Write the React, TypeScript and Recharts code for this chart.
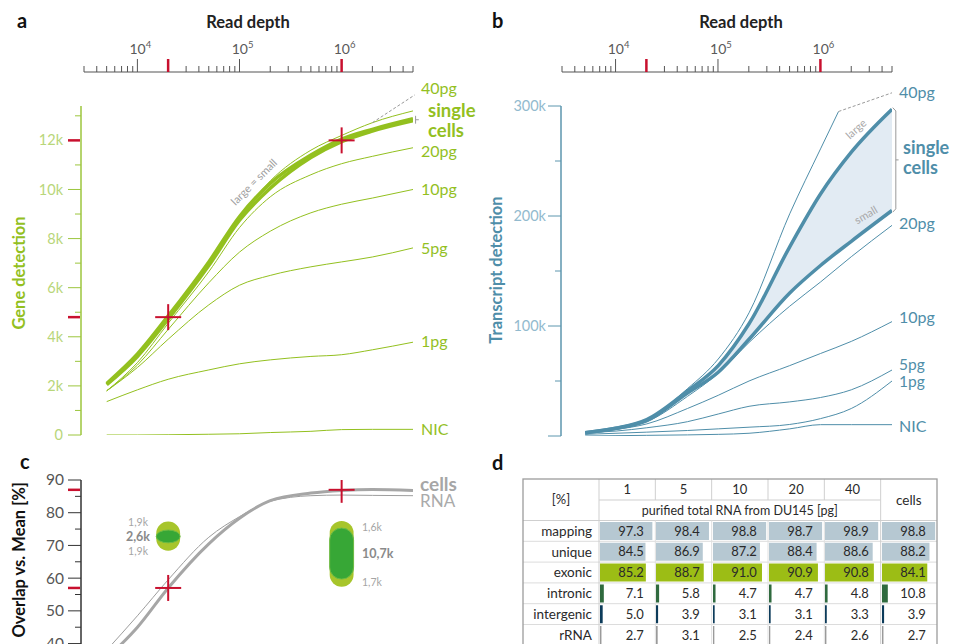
import React from 'react';
import {
  ComposedChart, Line, Area, XAxis, YAxis, Scatter, ReferenceLine, ReferenceArea,
  BarChart, Bar, Cell, LabelList,
} from 'recharts';

const FONT = 'Lato, "Open Sans", "DejaVu Sans", sans-serif';
const W = 955;
const H = 644;
const RED = '#c8102e';
const AXIS_DARK = '#555555';
const GREEN = '#93c01f';
const GREEN_AXIS = '#9cc63d';
const GREEN_LIGHT = '#b8d67a';
const BLUE = '#4f8ea9';
const BLUE_AXIS = '#5d96ae';
const BLUE_LIGHT = '#92bace';
const BAND = '#e2ebf3';
const GRAY_LINE = '#a6a6a6';

// ---------------- shared read-depth axis ----------------
const depths = [5000, 10000, 20000, 50000, 100000, 200000, 500000, 1000000, 2000000, 5000000];
const depthTicks = [
  3000, 4000, 5000, 6000, 7000, 8000, 9000, 10000,
  20000, 30000, 40000, 50000, 60000, 70000, 80000, 90000, 100000,
  200000, 300000, 400000, 500000, 600000, 700000, 800000, 900000, 1000000,
  2000000, 3000000, 4000000, 5000000,
];
const markedDepths = [20000, 1000000];

// ---------------- panel a: gene detection ----------------
const geneCellsLarge = [2100, 3300, 4850, 7050, 8900, 10250, 11400, 12050, 12450, 12880];
const geneCellsSmall = [2050, 3200, 4720, 6900, 8750, 10050, 11300, 11950, 12380, 12800];
const gene40pg = [2080, 3250, 4800, 7000, 8850, 10350, 11600, 12200, 12720, 13200];
const gene20pg = [1800, 2950, 4550, 6650, 8450, 9700, 10600, 11050, 11350, 11700];
const gene10pg = [1800, 2850, 4300, 6200, 7450, 8300, 9050, 9400, 9650, 10000];
const gene5pg = [1800, 2750, 3900, 5300, 6100, 6500, 6850, 7050, 7250, 7620];
const gene1pg = [1360, 1840, 2270, 2650, 2900, 3060, 3200, 3270, 3470, 3780];
const geneNIC = [0, 0, 10, 30, 50, 100, 150, 220, 230, 230];
const geneMarks = [4800, 12000];
const geneMajorTicks = [0, 2000, 4000, 6000, 8000, 10000, 12000];
const geneMinorTicks = [1000, 3000, 5000, 7000, 9000, 11000, 13000];

// ---------------- panel b: transcript detection ----------------
const txLarge = [3000, 7000, 15000, 41000, 64000, 102000, 172000, 220000, 258000, 297000];
const txSmall = [3000, 7000, 14000, 39000, 58000, 88000, 130000, 155000, 177000, 205000];
const tx40Depths = [5000, 10000, 20000, 50000, 100000, 200000, 500000, 1000000, 1500000];
const tx40pg = [3000, 7000, 15000, 43000, 70000, 112000, 202000, 261000, 295000];
const tx20pg = [3000, 6500, 13000, 36000, 57000, 85000, 118000, 140000, 163000, 191500];
const tx10pg = [3000, 6000, 11000, 25000, 37000, 50000, 64000, 75000, 86000, 104000];
const tx5pg = [3000, 4500, 7500, 13000, 20000, 27000, 31000, 35000, 42000, 60000];
const tx1pg = [1500, 2500, 3500, 5000, 6500, 8000, 10500, 15800, 25000, 50000];
const txNIC = [0, 300, 600, 1000, 1500, 2500, 6500, 10300, 10300, 10300];
const txMajorTicks = [0, 100000, 200000, 300000];
const txMinorTicks = [50000, 150000, 250000];

// ---------------- panel c: overlap vs mean ----------------
const overlapCells = [35.5, 45, 57, 70.5, 78.3, 83.7, 86.0, 86.8, 87.1, 86.8];
const overlapRNA = [38, 48.5, 59.5, 72.5, 78.8, 83.5, 85.2, 85.4, 85.3, 85.2];
const overlapMarks = [57, 87];
const overlapMajorTicks = [30, 40, 50, 60, 70, 80, 90];
const overlapMinorTicks = [35, 45, 55, 65, 75, 85];
const capsuleDepths = [20000, 1000000];
const capsuleOuterLow = [68.4, 57.4];
const capsuleOuterHigh = [77.3, 77.5];
const capsuleInnerLow = [70.8, 59.7];
const capsuleInnerHigh = [74.7, 75.3];
const capsuleTopLabels = ['1,9k', '1,6k'];
const capsuleMidLabels = ['2,6k', '10,7k'];
const capsuleBottomLabels = ['1,9k', '1,7k'];

// ---------------- panel d: table ----------------
const tableRows = ['mapping', 'unique', 'exonic', 'intronic', 'intergenic', 'rRNA'];
const tableCols = ['1', '5', '10', '20', '40', 'cells'];
const mappingVals = [97.3, 98.4, 98.8, 98.7, 98.9, 98.8];
const uniqueVals = [84.5, 86.9, 87.2, 88.4, 88.6, 88.2];
const exonicVals = [85.2, 88.7, 91.0, 90.9, 90.8, 84.1];
const intronicVals = [7.1, 5.8, 4.7, 4.7, 4.8, 10.8];
const intergenicVals = [5.0, 3.9, 3.1, 3.1, 3.3, 3.9];
const rRNAVals = [2.7, 3.1, 2.5, 2.4, 2.6, 2.7];
const tableVals = [mappingVals, uniqueVals, exonicVals, intronicVals, intergenicVals, rRNAVals];
const rowColors = ['#b6c8d2', '#b6c8d2', '#9cbd15', '#2f6a3e', '#0c3b5a', '#9a9a9a'];

// ---------------- helpers ----------------
const series = (xs: number[], ys: number[]) => xs.map((d, i) => ({ depth: d, v: ys[i] }));
const uniqSorted = (a: number[]) => Array.from(new Set(a)).sort((p, q) => p - q);
const last = (a: number[]) => a[a.length - 1];

function DepthTick(props: any) {
  const { x, y, payload } = props;
  const v: number = payload.value;
  const e = Math.log10(v);
  const decade = Math.abs(e - Math.round(e)) < 1e-9;
  const red = markedDepths.includes(v);
  const len = decade || red ? 13 : 6;
  return (
    <g>
      <line x1={x} x2={x} y1={y} y2={y - len} stroke={red ? RED : AXIS_DARK} strokeWidth={red ? 2.5 : 1} />
      {decade && (
        <text x={x + 3} y={y - 18} textAnchor="middle" fontFamily={FONT} fontSize={14} fill="#5a5a5a">
          10<tspan dy={-6} fontSize={9.5}>{Math.round(e)}</tspan>
        </text>
      )}
    </g>
  );
}

type TickCfg = {
  major: number[];
  labelled: (v: number) => string | null;
  color: string;
  labelColor: string;
  red: number[];
  fontSize: number;
  gap: number;
};

function makeYTick(cfg: TickCfg) {
  return (props: any) => {
    const { x, y, payload } = props;
    const v: number = payload.value;
    const isRed = cfg.red.includes(v);
    const isMajor = cfg.major.includes(v);
    const lbl = isMajor ? cfg.labelled(v) : null;
    return (
      <g>
        {isRed ? (
          <line x1={x - 13} x2={x - 1} y1={y} y2={y} stroke={RED} strokeWidth={2.5} />
        ) : (
          <line x1={x - (isMajor ? 13 : 6)} x2={x} y1={y} y2={y} stroke={cfg.color} strokeWidth={1} />
        )}
        {lbl && (
          <text x={x - cfg.gap} y={y} dy="0.35em" textAnchor="end" fontFamily={FONT} fontSize={cfg.fontSize} fill={cfg.labelColor}>
            {lbl}
          </text>
        )}
      </g>
    );
  };
}

const CrossShape = (props: any) => {
  const { cx, cy } = props;
  return (
    <g>
      <line x1={cx - 13} x2={cx + 13} y1={cy} y2={cy} stroke={RED} strokeWidth={2} />
      <line x1={cx} x2={cx} y1={cy - 13} y2={cy + 13} stroke={RED} strokeWidth={2} />
    </g>
  );
};

function Abs({ children }: { children: React.ReactNode }) {
  return <div style={{ position: 'absolute', left: 0, top: 0 }}>{children}</div>;
}

function DepthAxis({ left, right }: { left: number; right: number }) {
  return (
    <ComposedChart width={W} height={H} margin={{ top: 0, left, right: W - right, bottom: H - 80 }}
      data={depthTicks.map((d) => ({ depth: d, v: 0.5 }))}>
      <XAxis dataKey="depth" type="number" scale="log" domain={[3000, 5000000]} allowDataOverflow
        orientation="top" height={72} ticks={depthTicks} interval={0} tickSize={0} tickMargin={0}
        tickLine={false} axisLine={{ stroke: AXIS_DARK, strokeWidth: 1.2 }} tick={DepthTick} />
      <YAxis hide domain={[0, 1]} />
      <Line dataKey="v" stroke="none" dot={false} isAnimationActive={false} />
    </ComposedChart>
  );
}

const geneTick = makeYTick({
  major: geneMajorTicks,
  labelled: (v) => (v === 0 ? '0' : `${v / 1000}k`),
  color: GREEN_AXIS, labelColor: GREEN_LIGHT, red: geneMarks, fontSize: 14.5, gap: 18,
});
const txTick = makeYTick({
  major: txMajorTicks,
  labelled: (v) => (v === 0 ? null : `${v / 1000}k`),
  color: BLUE_AXIS, labelColor: BLUE_LIGHT, red: [], fontSize: 14.5, gap: 15,
});
const overlapTick = makeYTick({
  major: overlapMajorTicks,
  labelled: (v) => `${v}`,
  color: '#333', labelColor: '#555', red: overlapMarks, fontSize: 15.5, gap: 17,
});

function PanelA() {
  const ticks = uniqSorted([...geneMajorTicks, ...geneMinorTicks, ...geneMarks]);
  const thin = [geneNIC, gene1pg, gene5pg, gene10pg, gene20pg, gene40pg];
  return (
    <ComposedChart width={W} height={H} margin={{ top: 106, right: W - 413, bottom: H - 435, left: 0 }}>
      <XAxis dataKey="depth" type="number" scale="log" domain={[2800, 5000000]} allowDataOverflow hide />
      <YAxis type="number" domain={[0, 13400]} allowDataOverflow width={81} ticks={ticks} interval={0}
        tickSize={0} tickMargin={0} tickLine={false} axisLine={{ stroke: GREEN_AXIS, strokeWidth: 1.5 }} tick={geneTick} />
      {thin.map((s, i) => (
        <Line key={i} data={series(depths, s)} dataKey="v" type="monotone" stroke={GREEN} strokeWidth={1}
          dot={false} isAnimationActive={false} />
      ))}
      <Line data={series(depths, geneCellsSmall)} dataKey="v" type="monotone" stroke={GREEN} strokeWidth={3.5}
        dot={false} isAnimationActive={false} />
      <Line data={series(depths, geneCellsLarge)} dataKey="v" type="monotone" stroke={GREEN} strokeWidth={3.5}
        dot={false} isAnimationActive={false} />
      <ReferenceLine ifOverflow="visible" stroke="#999" strokeDasharray="3 2"
        segment={[{ x: depths[8], y: gene40pg[8] }, { x: 5200000, y: 13850 }]} />
      <ReferenceLine ifOverflow="visible" stroke="#999"
        segment={[{ x: 5300000, y: last(geneCellsSmall) - 120 }, { x: 5300000, y: last(geneCellsLarge) + 120 }]} />
      <ReferenceLine ifOverflow="visible" stroke="#999"
        segment={[{ x: 5300000, y: last(geneCellsLarge) - 40 }, { x: 5700000, y: last(geneCellsLarge) - 40 }]} />
      <Scatter data={series(markedDepths, geneMarks)} dataKey="v" shape={CrossShape} isAnimationActive={false} />
    </ComposedChart>
  );
}

function PanelB() {
  const ticks = uniqSorted([...txMajorTicks, ...txMinorTicks]);
  const band = depths.map((d, i) => ({ depth: d, band: [txSmall[i], txLarge[i]] }));
  const thin = [txNIC, tx1pg, tx5pg, tx10pg, tx20pg];
  const bx = 5450000;
  const topV = last(txLarge);
  const botV = last(txSmall);
  return (
    <ComposedChart width={W} height={H} data={band} margin={{ top: 106, right: W - 892, bottom: H - 436, left: 0 }}>
      <XAxis dataKey="depth" type="number" scale="log" domain={[2900, 5000000]} allowDataOverflow hide />
      <YAxis type="number" domain={[0, 300000]} allowDataOverflow width={561} ticks={ticks} interval={0}
        tickSize={0} tickMargin={0} tickLine={false} axisLine={{ stroke: BLUE_AXIS, strokeWidth: 1.5 }} tick={txTick} />
      <Area dataKey="band" type="monotone" stroke="none" fill={BAND} fillOpacity={1} isAnimationActive={false} />
      {thin.map((s, i) => (
        <Line key={i} data={series(depths, s)} dataKey="v" type="monotone" stroke={BLUE} strokeWidth={1}
          dot={false} isAnimationActive={false} />
      ))}
      <Line data={series(tx40Depths, tx40pg)} dataKey="v" type="monotone" stroke={BLUE} strokeWidth={1}
        dot={false} isAnimationActive={false} />
      <Line data={series(depths, txSmall)} dataKey="v" type="monotone" stroke={BLUE} strokeWidth={3.5}
        dot={false} isAnimationActive={false} />
      <Line data={series(depths, txLarge)} dataKey="v" type="monotone" stroke={BLUE} strokeWidth={3.5}
        dot={false} isAnimationActive={false} />
      <ReferenceLine ifOverflow="visible" stroke="#999" strokeDasharray="3 2"
        segment={[{ x: last(tx40Depths), y: last(tx40pg) }, { x: 5000000, y: 312000 }]} />
      <ReferenceLine ifOverflow="visible" stroke="#999"
        segment={[{ x: 5080000, y: topV + 1500 }, { x: bx, y: topV - 1500 }]} />
      <ReferenceLine ifOverflow="visible" stroke="#999"
        segment={[{ x: bx, y: topV - 1500 }, { x: bx, y: botV + 1500 }]} />
      <ReferenceLine ifOverflow="visible" stroke="#999"
        segment={[{ x: bx, y: botV + 1500 }, { x: 5080000, y: botV - 1500 }]} />
      <ReferenceLine ifOverflow="visible" stroke="#999"
        segment={[{ x: bx, y: (topV + botV) / 2 }, { x: 5800000, y: (topV + botV) / 2 }]} />
    </ComposedChart>
  );
}

const CAPSULE_HALF_DECADES = 0.117;
const capsuleShape = (fill: string, stroke?: string) => (p: any) => (
  <rect x={p.x} y={p.y} width={p.width} height={p.height} rx={p.width / 2} ry={Math.min(p.width / 2, p.height / 2)}
    fill={fill} stroke={stroke || 'none'} strokeWidth={stroke ? 1 : 0} />
);

function PanelC() {
  const ticks = uniqSorted([...overlapMajorTicks, ...overlapMinorTicks, ...overlapMarks]);
  const f = Math.pow(10, CAPSULE_HALF_DECADES);
  return (
    <ComposedChart width={W} height={720} margin={{ top: 480, right: W - 413, bottom: 720 - 709, left: 0 }}>
      <XAxis dataKey="depth" type="number" scale="log" domain={[2800, 5000000]} allowDataOverflow hide />
      <YAxis type="number" domain={[20, 90]} allowDataOverflow width={81} ticks={ticks} interval={0}
        tickSize={0} tickMargin={0} tickLine={false} axisLine={{ stroke: '#333', strokeWidth: 1.5 }} tick={overlapTick} />
      {capsuleDepths.map((d, i) => (
        <ReferenceArea key={`o${i}`} x1={d / f} x2={d * f} y1={capsuleOuterLow[i]} y2={capsuleOuterHigh[i]}
          shape={capsuleShape('#a7c52b')} />
      ))}
      {capsuleDepths.map((d, i) => (
        <ReferenceArea key={`n${i}`} x1={d / f} x2={d * f} y1={capsuleInnerLow[i]} y2={capsuleInnerHigh[i]}
          shape={capsuleShape('#37a736', '#6dbb45')} />
      ))}
      <Line data={series(depths, overlapRNA)} dataKey="v" type="monotone" stroke="#9d9d9d" strokeWidth={1}
        dot={false} isAnimationActive={false} />
      <Line data={series(depths, overlapCells)} dataKey="v" type="monotone" stroke={GRAY_LINE} strokeWidth={3}
        dot={false} isAnimationActive={false} />
      <Scatter data={series(markedDepths, overlapMarks)} dataKey="v" shape={CrossShape} isAnimationActive={false} />
    </ComposedChart>
  );
}

// ---------------- table geometry ----------------
const TBL_L = 523;
const TBL_R = 937;
const LABEL_R = 599;
const COL_W = (TBL_R - LABEL_R) / 6;
const TBL_T = 479;
const HDR1_B = 500;
const HDR2_B = 520.5;
const ROW_H = 20.8;

const renderCellValue = (props: any) => {
  const { x, y, width, height, value } = props;
  const full = (Number(width) * 100) / Number(value);
  return (
    <text x={Number(x) + full - 10} y={Number(y) + Number(height) / 2} dy="0.36em" textAnchor="end"
      fontFamily={FONT} fontSize={13} fill="#2a2a2a">
      {Number(value).toFixed(1)}
    </text>
  );
};

function TableColumn({ ci }: { ci: number }) {
  const data = tableRows.map((r, ri) => ({ row: r, v: tableVals[ri][ci] }));
  return (
    <BarChart width={COL_W} height={ROW_H * tableRows.length} data={data} layout="vertical"
      margin={{ top: 0, right: 1.5, bottom: 0, left: 1 }} barCategoryGap={0}>
      <XAxis type="number" domain={[0, 100]} hide allowDataOverflow />
      <YAxis type="category" dataKey="row" hide />
      <Bar dataKey="v" barSize={18} isAnimationActive={false}>
        {data.map((_, ri) => <Cell key={ri} fill={rowColors[ri]} />)}
        <LabelList dataKey="v" content={renderCellValue} />
      </Bar>
    </BarChart>
  );
}

function TableGrid() {
  const rowsY = tableRows.map((_, i) => HDR2_B + ROW_H * i);
  const colX = tableCols.map((_, i) => LABEL_R + COL_W * i);
  return (
    <g fontFamily={FONT} fill="#2a2a2a">
      {rowsY.slice(1).map((y, i) => (
        <line key={`h${i}`} x1={TBL_L} x2={TBL_R} y1={y} y2={y} stroke="#dcdcdc" />
      ))}
      <line x1={TBL_L} x2={TBL_R} y1={HDR2_B} y2={HDR2_B} stroke="#cfcfcf" />
      <line x1={LABEL_R} x2={LABEL_R + COL_W * 5} y1={HDR1_B} y2={HDR1_B} stroke="#cfcfcf" />
      {colX.slice(1).map((x, i) => (
        <React.Fragment key={`v${i}`}>
          {i < 4 && <line x1={x} x2={x} y1={TBL_T} y2={HDR1_B} stroke="#cfcfcf" />}
          <line x1={x} x2={x} y1={i < 4 ? HDR2_B : TBL_T} y2={H + 10} stroke={i < 4 ? '#e0e0e0' : '#cfcfcf'} />
        </React.Fragment>
      ))}
      <line x1={LABEL_R} x2={LABEL_R} y1={TBL_T} y2={H + 10} stroke="#cfcfcf" />
      <rect x={TBL_L} y={TBL_T} width={TBL_R - TBL_L} height={H + 20 - TBL_T} fill="none" stroke="#9c9c9c" strokeWidth={1.3} />
      <text x={(TBL_L + LABEL_R) / 2} y={(TBL_T + HDR2_B) / 2} dy="0.35em" textAnchor="middle" fontSize={13}>[%]</text>
      {tableCols.slice(0, 5).map((c, i) => (
        <text key={c} x={LABEL_R + COL_W * (i + 0.5)} y={(TBL_T + HDR1_B) / 2} dy="0.36em" textAnchor="middle" fontSize={13}>{c}</text>
      ))}
      <text x={LABEL_R + COL_W * 2.5} y={(HDR1_B + HDR2_B) / 2} dy="0.36em" textAnchor="middle" fontSize={12.5}>
        purified total RNA from DU145 [pg]
      </text>
      <text x={LABEL_R + COL_W * 5.5} y={(TBL_T + HDR2_B) / 2} dy="0.36em" textAnchor="middle" fontSize={13.5}>{tableCols[5]}</text>
      {tableRows.map((r, i) => (
        <text key={r} x={LABEL_R - 7} y={HDR2_B + ROW_H * (i + 0.5)} dy="0.36em" textAnchor="end" fontSize={13.5}>{r}</text>
      ))}
    </g>
  );
}

function Annotations() {
  const lab = (x: number, y: number, t: string, fill: string, size = 16, bold = false, key?: string) => (
    <text key={key || t + y} x={x} y={y} dy="0.35em" fontFamily={FONT} fontSize={size} fontWeight={bold ? 700 : 400} fill={fill}>{t}</text>
  );
  return (
    <svg width={W} height={H} style={{ position: 'absolute', left: 0, top: 0, pointerEvents: 'none' }}>
      {/* panel letters */}
      <text x={17} y={28} fontFamily={FONT} fontSize={20} fontWeight={700} fill="#111">a</text>
      <text x={492} y={28} fontFamily={FONT} fontSize={20} fontWeight={700} fill="#111">b</text>
      <text x={20} y={469} fontFamily={FONT} fontSize={20} fontWeight={700} fill="#111">c</text>
      <text x={492} y={470} fontFamily={FONT} fontSize={20} fontWeight={700} fill="#111">d</text>
      {/* axis titles */}
      <text x={248} y={28} textAnchor="middle" fontFamily={FONT} fontSize={16.5} fontWeight={700} fill="#222">Read depth</text>
      <text x={741} y={28} textAnchor="middle" fontFamily={FONT} fontSize={16.5} fontWeight={700} fill="#222">Read depth</text>
      <text transform="translate(19,273) rotate(-90)" textAnchor="middle" dy="0.35em" fontFamily={FONT} fontSize={16.5} fontWeight={700} fill={GREEN}>Gene detection</text>
      <text transform="translate(496,270) rotate(-90)" textAnchor="middle" dy="0.35em" fontFamily={FONT} fontSize={16.5} fontWeight={700} fill={BLUE}>Transcript detection</text>
      <text transform="translate(19,482) rotate(-90)" textAnchor="end" dy="0.35em" fontFamily={FONT} fontSize={16.5} fontWeight={700} fill="#111">Overlap vs. Mean [%]</text>
      {/* panel a labels */}
      {lab(421, 88, '40pg', GREEN)}
      {lab(428, 111, 'single', GREEN, 18.5, true)}
      {lab(428, 131, 'cells', GREEN, 18.5, true)}
      {lab(421, 151, '20pg', GREEN)}
      {lab(421, 189, '10pg', GREEN)}
      {lab(421, 248, '5pg', GREEN)}
      {lab(421, 341.5, '1pg', GREEN)}
      {lab(421, 429, 'NIC', GREEN)}
      <text transform="translate(254,182) rotate(-45)" textAnchor="middle" dy="0.35em" fontFamily={FONT} fontSize={11} fill="#a0a0a0">large = small</text>
      {/* panel b labels */}
      {lab(899, 92, '40pg', BLUE)}
      {lab(903, 148, 'single', BLUE, 18, true)}
      {lab(903, 167.5, 'cells', BLUE, 18, true)}
      {lab(899, 223, '20pg', BLUE)}
      {lab(899, 317.5, '10pg', BLUE)}
      {lab(899, 365, '5pg', BLUE, 15.5)}
      {lab(899, 382, '1pg', BLUE, 15.5)}
      {lab(899, 426, 'NIC', BLUE)}
      <text transform="translate(856,129) rotate(-42)" textAnchor="middle" dy="0.35em" fontFamily={FONT} fontSize={11} fill="#a8a8a8">large</text>
      <text transform="translate(866,215) rotate(-30)" textAnchor="middle" dy="0.35em" fontFamily={FONT} fontSize={11} fill="#a8a8a8">small</text>
      {/* panel c labels */}
      {lab(420, 484, 'cells', GRAY_LINE, 19, true)}
      {lab(420, 501, 'RNA', '#aaaaaa', 17)}
      <text x={148} y={522} dy="0.35em" textAnchor="end" fontFamily={FONT} fontSize={10.5} fill="#a5a5a5">{capsuleTopLabels[0]}</text>
      <text x={150} y={537} dy="0.35em" textAnchor="end" fontFamily={FONT} fontSize={12.5} fontWeight={700} fill="#8a8a8a">{capsuleMidLabels[0]}</text>
      <text x={148} y={551} dy="0.35em" textAnchor="end" fontFamily={FONT} fontSize={10.5} fill="#a5a5a5">{capsuleBottomLabels[0]}</text>
      <text x={362} y={527} dy="0.35em" fontFamily={FONT} fontSize={10.5} fill="#a5a5a5">{capsuleTopLabels[1]}</text>
      <text x={362} y={554} dy="0.35em" fontFamily={FONT} fontSize={12.5} fontWeight={700} fill="#8a8a8a">{capsuleMidLabels[1]}</text>
      <text x={362} y={582} dy="0.35em" fontFamily={FONT} fontSize={10.5} fill="#a5a5a5">{capsuleBottomLabels[1]}</text>
      {/* table */}
      <TableGrid />
    </svg>
  );
}

export default function App() {
  return (
    <div style={{ position: 'absolute', left: 0, top: 0, width: W, height: H, overflow: 'hidden', background: '#fff' }}>
      <Abs><DepthAxis left={84} right={413} /></Abs>
      <Abs><DepthAxis left={562} right={892} /></Abs>
      <Abs><PanelA /></Abs>
      <Abs><PanelB /></Abs>
      <Abs><PanelC /></Abs>
      {tableCols.map((c, ci) => (
        <div key={c} style={{ position: 'absolute', left: LABEL_R + COL_W * ci, top: HDR2_B }}>
          <TableColumn ci={ci} />
        </div>
      ))}
      <Annotations />
    </div>
  );
}
